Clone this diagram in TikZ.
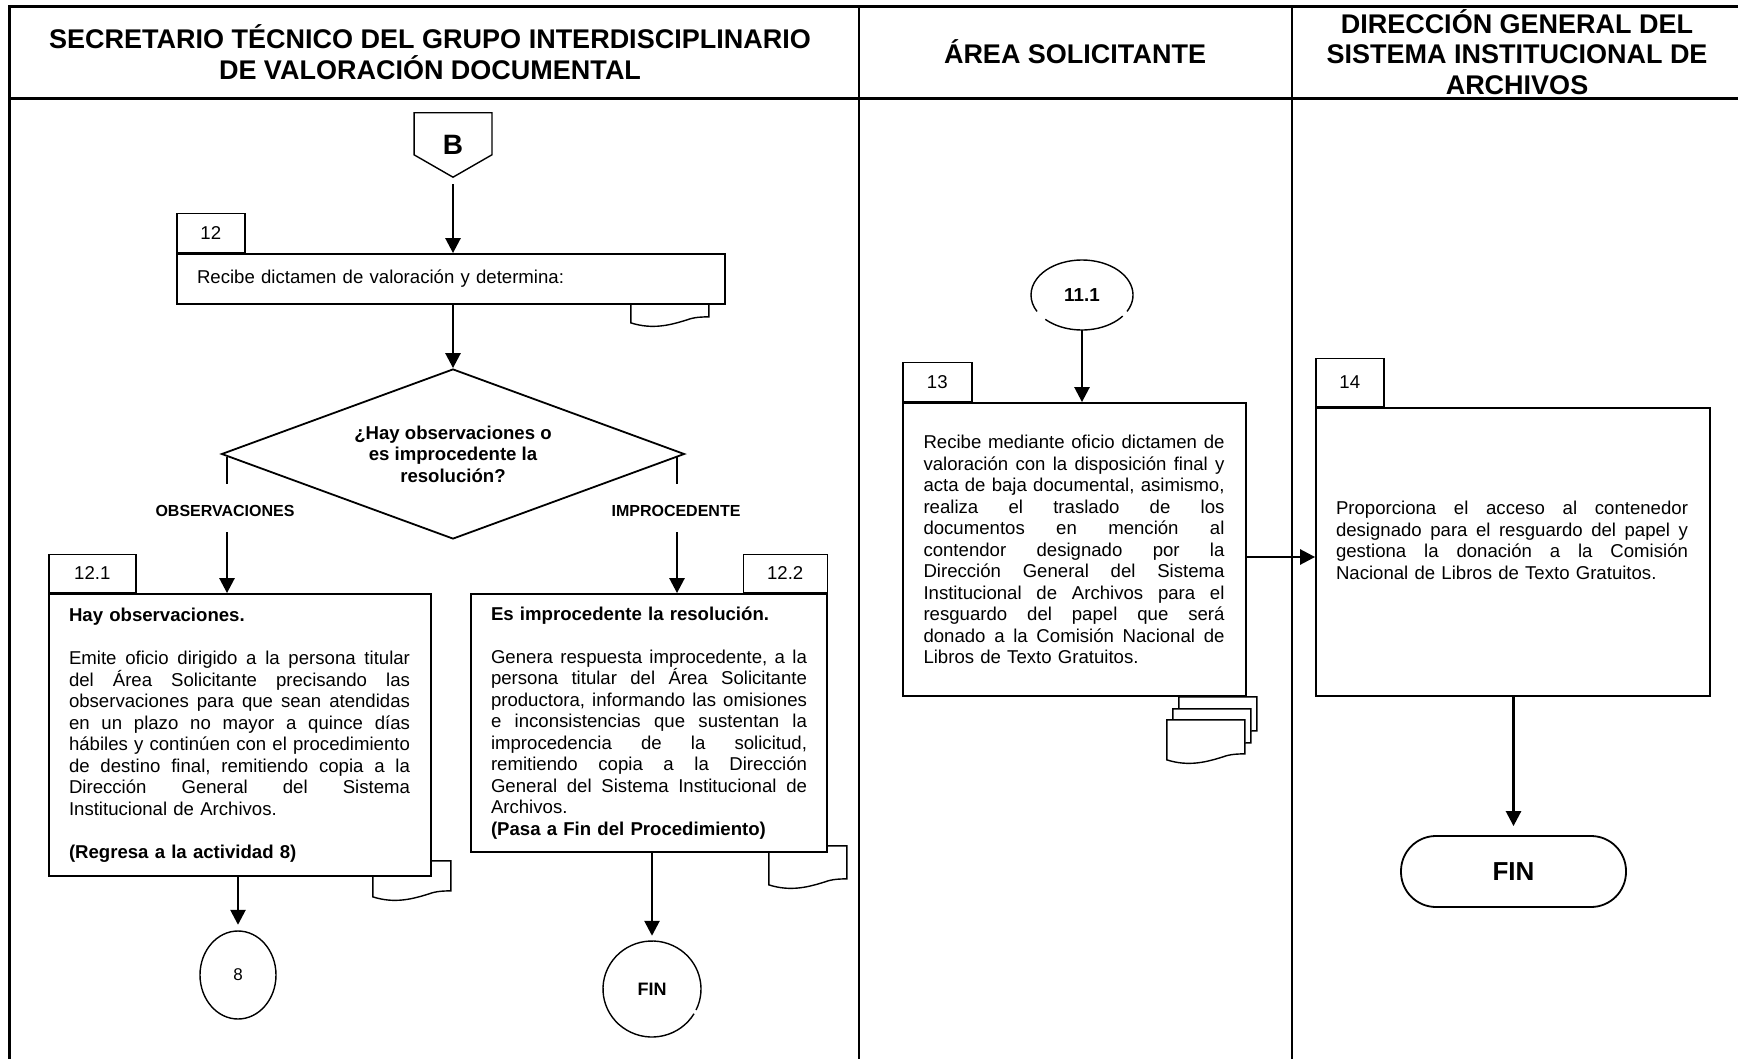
\documentclass[tikz,border=0pt]{standalone}
\usepackage{fontspec}
\setmainfont{Liberation Sans}
\usetikzlibrary{arrows.meta,shapes.geometric,calc,backgrounds}
\setlength{\parindent}{0pt}

% a justified line of the current column width \colw: words spread with \hfill
\newlength{\colw}
\def\jlsplit#1 #2\jlend{#1\if\relax\detokenize{#2}\relax\else\hfill\jlsplit#2\jlend\fi}
\newcommand{\jl}[1]{\leavevmode\hbox to \colw{\jlsplit#1 \jlend}}
% a document sheet with a wavy lower edge; #1 top-left corner, #2 height of the left edge
\newcommand{\sheet}[2]{%
  \begin{scope}[shift={#1}]
    \draw[sheetline] (0,0) -- (0,#2) .. controls (22,#2+7) and (40,#2+2) .. (56,#2-3)
      .. controls (64,#2-6) and (72,#2-6) .. (78,#2-6) -- (78,0) -- cycle;
  \end{scope}}

\begin{document}
\begin{tikzpicture}[x=1pt,y=-1pt,
  frame/.style={line width=3pt},
  lane/.style={line width=2pt},
  stepbox/.style={draw, line width=1.8pt, rectangle, inner sep=0pt, fill=white},
  tab/.style={draw, line width=1.4pt, rectangle, inner sep=0pt, fill=white,
    font=\fontsize{18.6}{21.5}\selectfont},
  body/.style={font=\fontsize{18.6}{21.5}\selectfont, align=left},
  head/.style={align=center, font=\bfseries\fontsize{27}{30.5}\selectfont},
  branchlbl/.style={font=\bfseries\fontsize{16}{18}\selectfont},
  flow/.style={line width=2.6pt, -{Triangle[width=15pt,length=15pt]}},
  branch/.style={line width=2pt},
  sheetline/.style={draw, line width=1.4pt, fill=white},
  connector/.style={ellipse, inner sep=0pt},
]
\useasboundingbox (0,0) rectangle (1738,1059);

% ---------- swimlane frame ----------
\draw[frame] (9,1064) -- (9,7) -- (1742,7);
\draw[frame] (9,99) -- (1742,99);
\draw[lane] (859,7) -- (859,1064);
\draw[lane] (1292,7) -- (1292,1064);

\node[head] (h1) at (430,52) {SECRETARIO TÉCNICO DEL GRUPO INTERDISCIPLINARIO\\DE VALORACIÓN DOCUMENTAL};
\node[head] (h2) at (1075,52) {ÁREA SOLICITANTE};
\node[head] (h3) at (1517,52) {DIRECCIÓN GENERAL DEL\\SISTEMA INSTITUCIONAL DE\\ARCHIVOS};

% ---------- off-page connector B ----------
\node[minimum width=77.5pt, minimum height=64pt, inner sep=0pt,
  font=\bfseries\fontsize{28}{30}\selectfont] (B) at (453,145) {B};
\draw[line width=1.4pt] (B.north west) -- (B.north east) -- ([yshift=-42pt]B.north east)
  -- (B.south) -- ([yshift=-42pt]B.north west) -- cycle;

% ---------- activity 12 ----------
\node[stepbox, body, minimum width=548pt, minimum height=50pt, text width=508pt] (a12) at (451,279)
  {Recibe dictamen de valoración y determina:};
\node[tab, minimum width=68pt, minimum height=39pt, anchor=south west] (n12) at (a12.north west) {12};

% ---------- decision ----------
\node[diamond, draw, line width=1.8pt, aspect=2.72, minimum width=463pt, minimum height=170pt,
  inner sep=0pt, align=center, font=\bfseries\fontsize{18.6}{21.6}\selectfont] (dia) at (453,454)
  {¿Hay observaciones o\\es improcedente la\\resolución?};

\node[branchlbl] (lobs) at (225,511) {OBSERVACIONES};
\node[branchlbl] (limp) at (676,511) {IMPROCEDENTE};

% ---------- activity 12.1 ----------
\setlength{\colw}{341pt}
\node[stepbox, body, minimum width=382pt, minimum height=282pt, text width=342pt] (b121) at (240,735)
  {{\bfseries Hay observaciones.}\\[21.5pt]
   \jl{Emite oficio dirigido a la persona titular}\\
   \jl{del Área Solicitante precisando las}\\
   \jl{observaciones para que sean atendidas}\\
   \jl{en un plazo no mayor a quince días}\\
   \jl{hábiles y continúen con el procedimiento}\\
   \jl{de destino final, remitiendo copia a la}\\
   \jl{Dirección General del Sistema}\\
   Institucional de Archivos.\\[21.5pt]
   {\bfseries (Regresa a la actividad 8)}};
\node[tab, minimum width=87pt, minimum height=38pt, anchor=south west] (n121) at (b121.north west) {12.1};

% ---------- activity 12.2 ----------
\setlength{\colw}{316pt}
\node[stepbox, body, minimum width=356pt, minimum height=258pt, text width=316pt] (b122) at (649,723)
  {{\bfseries Es improcedente la resolución.}\\[21.5pt]
   \jl{Genera respuesta improcedente, a la}\\
   \jl{persona titular del Área Solicitante}\\
   \jl{productora, informando las omisiones}\\
   \jl{e inconsistencias que sustentan la}\\
   \jl{improcedencia de la solicitud,}\\
   \jl{remitiendo copia a la Dirección}\\
   \jl{General del Sistema Institucional de}\\
   Archivos.\\
   {\bfseries (Pasa a Fin del Procedimiento)}};
\node[tab, minimum width=84pt, minimum height=38pt, anchor=south east] (n122) at (b122.north east) {12.2};

% ---------- connectors 8 and FIN ----------
\node[connector, minimum width=76pt, minimum height=88pt, font=\fontsize{17}{19}\selectfont] (c8) at (238,975) {8};
\draw[line width=1.4pt] (c8) ellipse[x radius=38, y radius=44];
\node[connector, minimum width=98pt, minimum height=96pt, font=\bfseries\fontsize{18}{20}\selectfont] (fin1) at (652,989) {FIN};
\draw[line width=1.4pt] ([shift={(31:49 and 48)}]fin1.center) arc[start angle=31, end angle=386, x radius=49, y radius=48];

% ---------- middle lane ----------
\node[connector, minimum width=102pt, minimum height=70pt, font=\bfseries\fontsize{18.8}{20}\selectfont] (c111) at (1082,295) {11.1};
\draw[line width=1.4pt] ([shift={(28:51 and 35)}]c111.center) arc[start angle=28, end angle=-208, x radius=51, y radius=35];
\draw[line width=1.4pt] ([shift={(136:51 and 35)}]c111.center) arc[start angle=136, end angle=37, x radius=51, y radius=35];

\setlength{\colw}{301pt}
\node[stepbox, body, minimum width=343pt, minimum height=293pt, text width=302pt] (b13) at (1074.5,549.5)
  {\jl{Recibe mediante oficio dictamen de}\\
   \jl{valoración con la disposición final y}\\
   \jl{acta de baja documental, asimismo,}\\
   \jl{realiza el traslado de los}\\
   \jl{documentos en mención al}\\
   \jl{contendor designado por la}\\
   \jl{Dirección General del Sistema}\\
   \jl{Institucional de Archivos para el}\\
   \jl{resguardo del papel que será}\\
   \jl{donado a la Comisión Nacional de}\\
   Libros de Texto Gratuitos.};
\node[tab, minimum width=69pt, minimum height=39pt, anchor=south west] (n13) at (b13.north west) {13};

% ---------- right lane ----------
\node[stepbox, minimum width=394pt, minimum height=288pt] (b14) at (1513,552) {};
\setlength{\colw}{352pt}
\node[body, text width=354pt, inner sep=0pt] (t14) at ($(b14.center)+(0,-11.5)$)
  {\jl{Proporciona el acceso al contenedor}\\
   \jl{designado para el resguardo del papel y}\\
   \jl{gestiona la donación a la Comisión}\\
   Nacional de Libros de Texto Gratuitos.};
\node[tab, minimum width=68pt, minimum height=48pt, anchor=south west] (n14) at (b14.north west) {14};

\node[draw, line width=1.8pt, rounded corners=35pt, minimum width=225pt, minimum height=71pt,
  inner sep=0pt, font=\bfseries\fontsize{26}{28}\selectfont] (fin2) at (1513.5,871.5) {FIN};

% ---------- document sheets behind the boxes ----------
\begin{scope}[on background layer]
  \sheet{($(a12.south east)+(-95,-10)$)}{28}
  \sheet{($(b121.south east)+(-59,-16)$)}{36}
  \sheet{($(b122.south east)+(-59,-7)$)}{39}
  \sheet{($(b13.south east)+(-68,0)$)}{40}
  \sheet{($(b13.south east)+(-74,12)$)}{40}
  \sheet{($(b13.south east)+(-80,23)$)}{40}
\end{scope}

% ---------- connectors ----------
\coordinate (obsTop) at (227,457);
\coordinate (obsMid) at (227,484);
\coordinate (obsLow) at (227,532);
\coordinate (impTop) at (677,457);
\coordinate (impMid) at (677,484);
\coordinate (impLow) at (677,532);
\coordinate (hlink) at (0,557);

\draw[flow, shorten <=7pt] (B.south) -- (B.south |- a12.north);
\draw[flow] (dia.north |- a12.south) -- (dia.north);
\draw[branch] (obsTop) -- (obsMid);
\draw[flow] (obsLow) -- (obsLow |- b121.north);
\draw[branch] (impTop) -- (impMid);
\draw[flow] (impLow) -- (impLow |- b122.north);
\draw[flow, shorten >=6pt] (c8.north |- b121.south) -- (c8.north);
\draw[flow, shorten >=5pt] (fin1.north |- b122.south) -- (fin1.north);
\draw[flow] (c111.south) -- (c111.south |- b13.north);
\draw[flow] (b13.east |- hlink) -- (b14.west |- hlink);
\draw[flow, shorten >=9pt] (fin2.north |- b14.south) -- (fin2.north);
\end{tikzpicture}
\end{document}
